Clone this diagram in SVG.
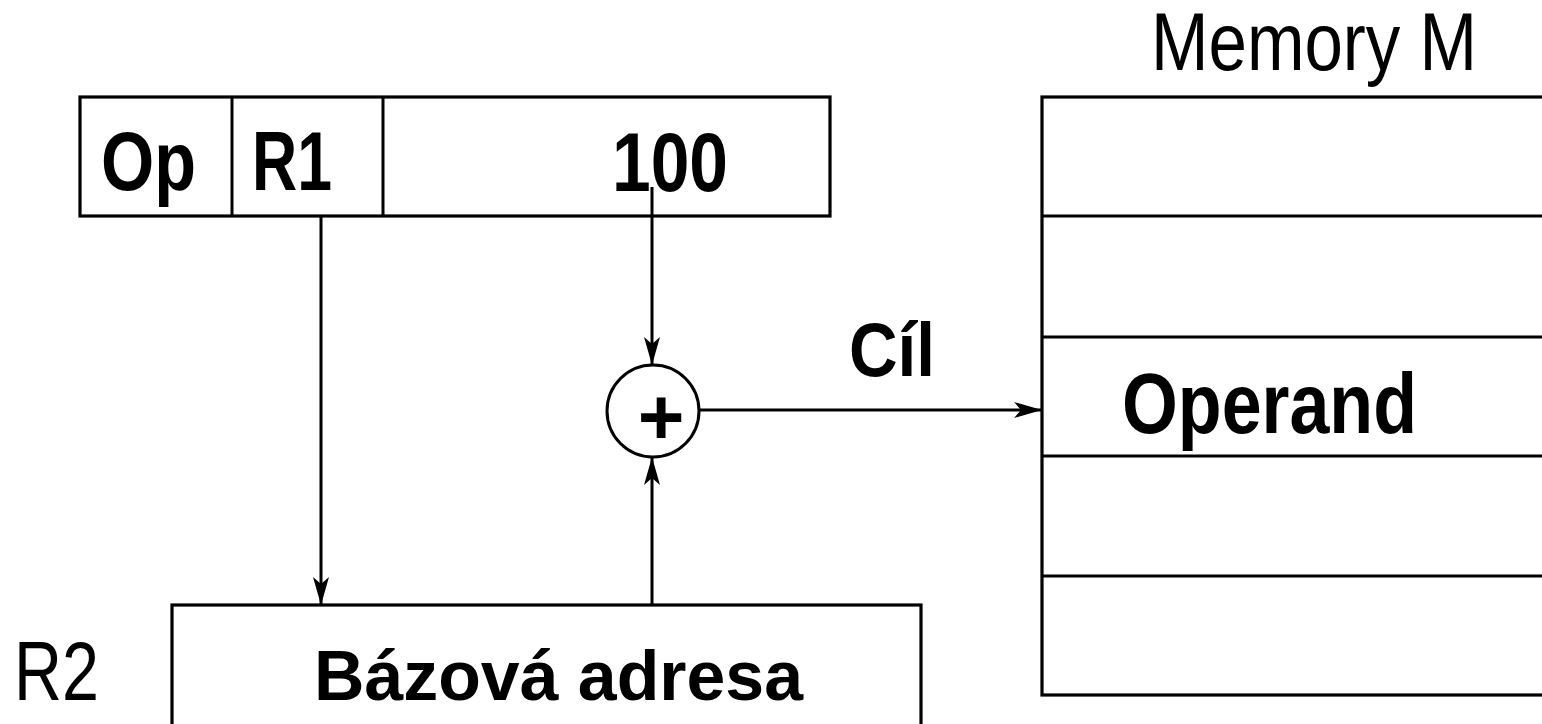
<svg xmlns="http://www.w3.org/2000/svg" width="1542" height="724" viewBox="0 0 1542 724">
  <style>
    .box { fill: #fff; stroke: #000; stroke-width: 3.2; }
    .ln { fill: none; stroke: #000; stroke-width: 3; }
    .b { font-family: "Liberation Sans", Arial, sans-serif; font-weight: bold; fill: #000; }
    .r { font-family: "Liberation Sans", Arial, sans-serif; font-weight: normal; fill: #000; }
  </style>
  <defs>
    <marker id="arrow" markerUnits="userSpaceOnUse" markerWidth="30" markerHeight="20" viewBox="0 0 30 20" refX="28" refY="10" orient="auto">
      <path d="M0,2 L28,10 L0,18 L7,10 Z" fill="#000"/>
    </marker>
  </defs>

  <rect width="1542" height="724" fill="#fff"/>

  <!-- instruction word: Op | R1 | displacement -->
  <g id="instruction">
    <rect class="box" x="80" y="97" width="750" height="119"/>
    <line class="ln" x1="232" y1="97" x2="232" y2="216"/>
    <line class="ln" x1="383" y1="97" x2="383" y2="216"/>
    <text class="b" x="101" y="190" font-size="84" textLength="95" lengthAdjust="spacingAndGlyphs">Op</text>
    <text class="b" x="252" y="190" font-size="84" textLength="80" lengthAdjust="spacingAndGlyphs">R1</text>
    <text class="b" x="612" y="191" font-size="84" textLength="116" lengthAdjust="spacingAndGlyphs">100</text>
  </g>

  <!-- base register -->
  <g id="register-r2">
    <rect class="box" x="172" y="605" width="749" height="200"/>
    <text class="r" x="14" y="700" font-size="84" textLength="85" lengthAdjust="spacingAndGlyphs">R2</text>
    <text class="b" x="314" y="700" font-size="71" textLength="489" lengthAdjust="spacingAndGlyphs">Bázová adresa</text>
  </g>

  <!-- adder -->
  <g id="adder">
    <circle class="ln" cx="653" cy="411" r="46"/>
    <text class="b" x="661" y="444" font-size="80" text-anchor="middle">+</text>
  </g>

  <!-- memory -->
  <g id="memory">
    <rect class="box" x="1042" y="97" width="600" height="598"/>
    <line class="ln" x1="1042" y1="216" x2="1542" y2="216"/>
    <line class="ln" x1="1042" y1="337" x2="1542" y2="337"/>
    <line class="ln" x1="1042" y1="456" x2="1542" y2="456"/>
    <line class="ln" x1="1042" y1="576" x2="1542" y2="576"/>
    <text class="r" x="1151" y="70" font-size="82" textLength="326" lengthAdjust="spacingAndGlyphs">Memory M</text>
    <text class="b" x="1122" y="433" font-size="85" textLength="295" lengthAdjust="spacingAndGlyphs">Operand</text>
  </g>

  <!-- connectors -->
  <g id="connectors">
    <line class="ln" x1="321" y1="216" x2="321" y2="605" marker-end="url(#arrow)"/>
    <line class="ln" x1="652" y1="187" x2="652" y2="365" marker-end="url(#arrow)"/>
    <line class="ln" x1="652" y1="605" x2="652" y2="457" marker-end="url(#arrow)"/>
    <line class="ln" x1="699" y1="410" x2="1042" y2="410" marker-end="url(#arrow)"/>
    <text class="b" x="849" y="376" font-size="76" textLength="86" lengthAdjust="spacingAndGlyphs">Cíl</text>
  </g>
</svg>
